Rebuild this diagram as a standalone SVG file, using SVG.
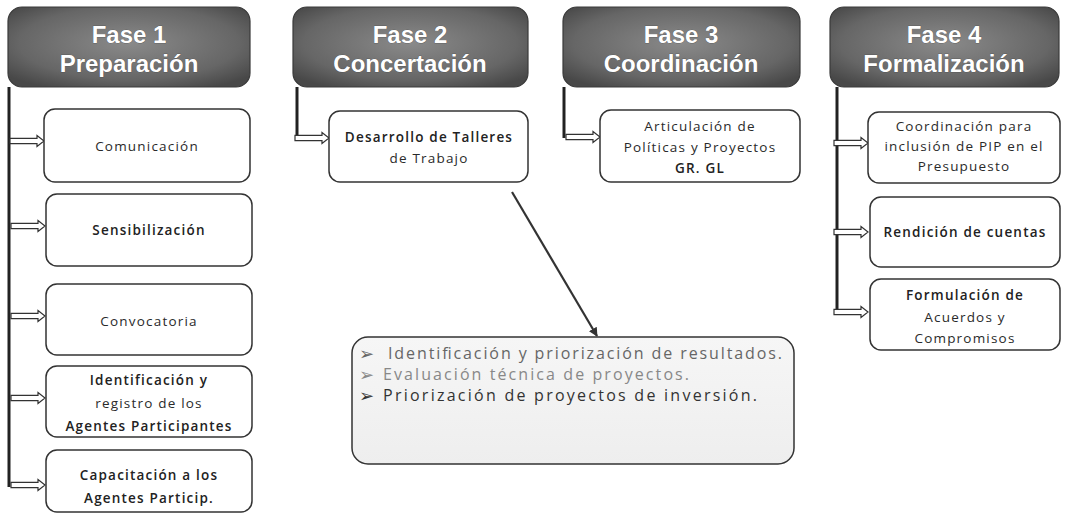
<svg xmlns="http://www.w3.org/2000/svg" width="1065" height="524" viewBox="0 0 1065 524">
<defs>
<radialGradient id="hg" cx="50%" cy="45%" r="65%">
<stop offset="0" stop-color="#8a8a8a"/>
<stop offset="0.7" stop-color="#666"/>
<stop offset="1" stop-color="#484848"/>
</radialGradient>
<linearGradient id="bg" x1="0" y1="0" x2="0" y2="1">
<stop offset="0" stop-color="#f6f6f6"/>
<stop offset="1" stop-color="#eeeeee"/>
</linearGradient>
<path id="arr" d="M0,-2.6 H27 V-5.5 L34,0 L27,5.5 V2.6 H0 Z"/>
<marker id="tip" viewBox="0 0 10 10" refX="9" refY="5" markerWidth="9" markerHeight="9" markerUnits="userSpaceOnUse" orient="auto">
<path d="M0,0 L10,5 L0,10 Z" fill="#333"/>
</marker>
</defs>
<style>
.hdr{fill:url(#hg);stroke:#3a3a3a;stroke-width:1.2}
.ht{font-family:"Liberation Sans",Arial,sans-serif;font-weight:bold;font-size:24px;fill:#fff;text-anchor:middle;stroke:#444;stroke-width:0.5;paint-order:stroke}
.box{fill:#fff;stroke:#333;stroke-width:1.5}
.t{font-family:"Open Sans","Liberation Sans",sans-serif;font-size:13.5px;fill:#2a2a2a;text-anchor:middle;letter-spacing:1.2px}
.b{font-weight:600;fill:#222}
.vl{stroke:#222;stroke-width:3;fill:none}
.ar{fill:#fff;stroke:#333;stroke-width:1.2}
.bt{font-family:"Open Sans","Liberation Sans",sans-serif;font-size:16px}
.bu{font-family:"DejaVu Sans",sans-serif;font-size:18px}
</style>
<rect width="1065" height="524" fill="#fff"/>

<g id="connectors">
<line class="vl" x1="9" y1="87" x2="9" y2="487"/>
<line class="vl" x1="297" y1="87" x2="297" y2="139"/>
<line class="vl" x1="564" y1="87" x2="564" y2="138"/>
<line class="vl" x1="837" y1="87" x2="837" y2="313"/>
<use href="#arr" class="ar" x="10" y="141"/>
<use href="#arr" class="ar" x="11" y="226"/>
<use href="#arr" class="ar" x="11" y="316"/>
<use href="#arr" class="ar" x="11" y="398"/>
<use href="#arr" class="ar" x="11" y="485"/>
<use href="#arr" class="ar" x="295" y="138"/>
<use href="#arr" class="ar" x="566" y="137"/>
<use href="#arr" class="ar" x="834" y="143"/>
<use href="#arr" class="ar" x="834" y="232"/>
<use href="#arr" class="ar" x="834" y="312"/>
<line x1="512" y1="192" x2="597" y2="336" stroke="#333" stroke-width="2.2" marker-end="url(#tip)"/>
</g>

<g id="fase1">
<rect class="hdr" x="8" y="7" width="242" height="80" rx="14"/>
<text class="ht" x="129" y="43">Fase 1</text>
<text class="ht" x="129" y="72">Preparación</text>
</g>
<g id="fase2">
<rect class="hdr" x="293" y="7" width="235" height="80" rx="14"/>
<text class="ht" x="410" y="43">Fase 2</text>
<text class="ht" x="410" y="72">Concertación</text>
</g>
<g id="fase3">
<rect class="hdr" x="563" y="7" width="237" height="80" rx="14"/>
<text class="ht" x="681" y="43">Fase 3</text>
<text class="ht" x="681" y="72">Coordinación</text>
</g>
<g id="fase4">
<rect class="hdr" x="830" y="7" width="229" height="80" rx="14"/>
<text class="ht" x="944" y="43">Fase 4</text>
<text class="ht" x="944" y="72">Formalización</text>
</g>

<g id="comunicacion">
<rect class="box" x="44" y="109" width="206" height="73" rx="11"/>
<text class="t" x="147" y="151">Comunicación</text>
</g>
<g id="sensibilizacion">
<rect class="box" x="46" y="194" width="206" height="72" rx="11"/>
<text class="t b" x="149" y="235">Sensibilización</text>
</g>
<g id="convocatoria">
<rect class="box" x="46" y="284" width="206" height="71" rx="11"/>
<text class="t" x="149" y="326">Convocatoria</text>
</g>
<g id="identificacion">
<rect class="box" x="46" y="366" width="206" height="71" rx="11"/>
<text class="t b" x="149" y="385">Identificación y</text>
<text class="t" x="149" y="408">registro de los</text>
<text class="t b" x="149" y="431">Agentes Participantes</text>
</g>
<g id="capacitacion">
<rect class="box" x="46" y="450" width="206" height="62" rx="11"/>
<text class="t b" x="149" y="480">Capacitación a los</text>
<text class="t b" x="149" y="503">Agentes Particip.</text>
</g>

<g id="talleres">
<rect class="box" x="329" y="111" width="199" height="71" rx="11"/>
<text class="t b" x="429" y="142">Desarrollo de Talleres</text>
<text class="t" x="429" y="163">de Trabajo</text>
</g>
<g id="articulacion">
<rect class="box" x="600" y="110" width="200" height="72" rx="11"/>
<text class="t" x="700" y="131">Articulación de</text>
<text class="t" x="700" y="152">Políticas y Proyectos</text>
<text class="t b" x="700" y="173">GR. GL</text>
</g>
<g id="coordinacion-pip">
<rect class="box" x="868" y="112" width="192" height="71" rx="11"/>
<text class="t" x="964" y="131">Coordinación para</text>
<text class="t" x="964" y="151">inclusión de PIP en el</text>
<text class="t" x="964" y="171">Presupuesto</text>
</g>
<g id="rendicion">
<rect class="box" x="870" y="197" width="190" height="70" rx="11"/>
<text class="t b" x="965" y="237">Rendición de cuentas</text>
</g>
<g id="formulacion">
<rect class="box" x="870" y="279" width="190" height="71" rx="11"/>
<text class="t b" x="965" y="300">Formulación de</text>
<text class="t" x="965" y="322">Acuerdos y</text>
<text class="t" x="965" y="343">Compromisos</text>
</g>

<g id="resultados">
<rect x="352" y="337" width="442" height="127" rx="16" fill="url(#bg)" stroke="#333" stroke-width="1.5"/>
<text class="bu" x="359" y="360" fill="#666">➢</text>
<text class="bt" x="388" y="359" fill="#666" textLength="394" lengthAdjust="spacing">Identificación y priorización de resultados.</text>
<text class="bu" x="359" y="381" fill="#888">➢</text>
<text class="bt" x="383" y="380" fill="#888" textLength="306" lengthAdjust="spacing">Evaluación técnica de proyectos.</text>
<text class="bu" x="359" y="402" fill="#333">➢</text>
<text class="bt" x="383" y="401" fill="#333" textLength="374" lengthAdjust="spacing">Priorización de proyectos de inversión.</text>
</g>
</svg>
